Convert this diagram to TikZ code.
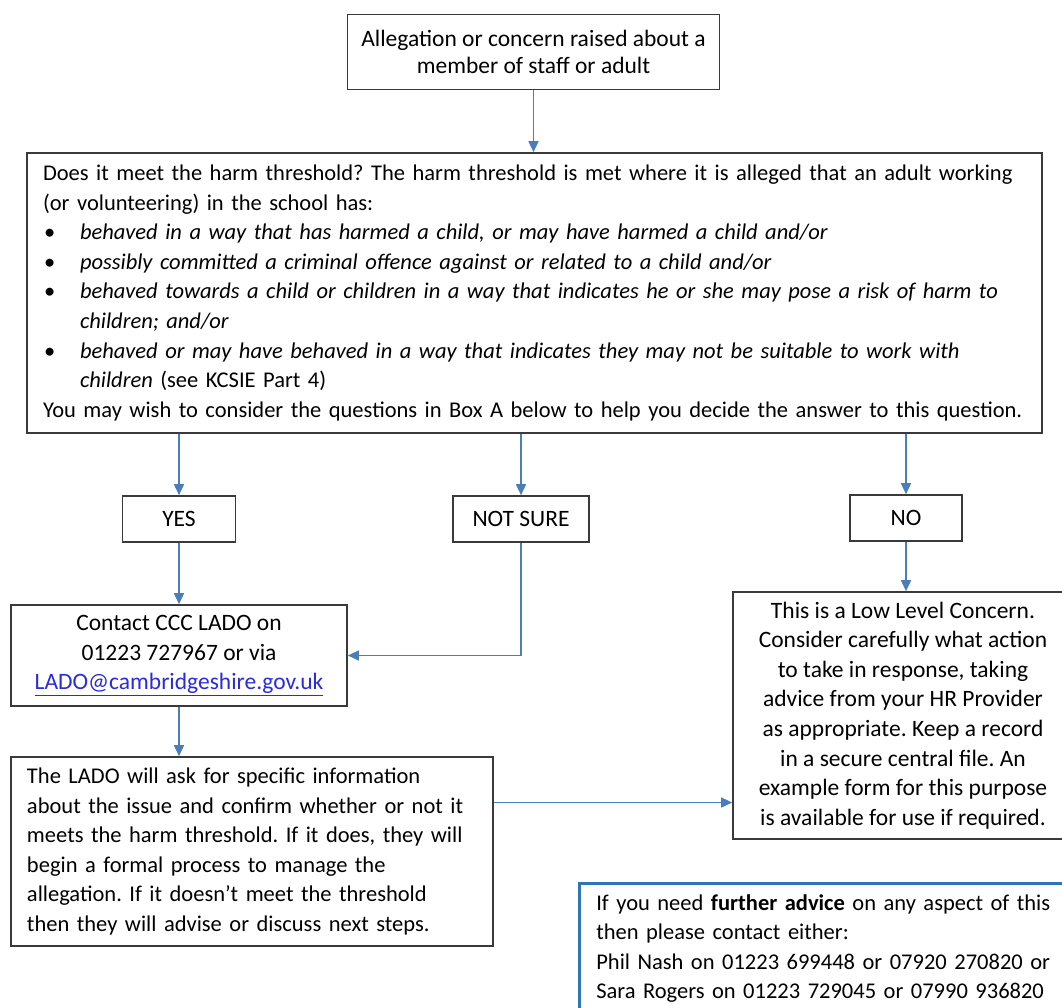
\documentclass[tikz,border=0pt]{standalone}
\usepackage{fontspec}
\setmainfont{Carlito}
\usetikzlibrary{arrows.meta,positioning,calc}
\definecolor{flowblue}{HTML}{4A7EBB}
\definecolor{edgegray}{HTML}{3A3A3A}
\definecolor{adviceblue}{HTML}{2E75B6}
\definecolor{linkblue}{HTML}{2A2AE0}
\tikzset{
    box/.style={draw=edgegray,line width=1.6pt,fill=white,inner sep=0pt,align=center,
        font=\fontsize{22.5}{29.6}\selectfont},
    bigtext/.style={font=\fontsize{23.5}{29.6}\selectfont},
    answer/.style={box,bigtext,minimum height=46pt},
    flow/.style={-{Triangle[length=11pt,width=10pt]},flowblue,line width=1.5pt}
}
\newcommand{\harmitem}[1]{\makebox[37pt][l]{\hspace{1pt}\textbullet}\textit{#1}}
\newcommand{\harmcont}[1]{\hspace*{37pt}\textit{#1}}
\frenchspacing

\begin{document}
\begin{tikzpicture}[x=1pt,y=-1pt]
    \useasboundingbox (0,0) rectangle (1062,1008);
    \clip (0,0) rectangle (1062,1008);

    \node[box,minimum width=372pt,minimum height=75pt,font=\fontsize{23.5}{27}\selectfont]
        (raised) at (533.5,52) {Allegation or concern raised about a\\member of staff or adult};

    \node[box,minimum width=1015pt,minimum height=280pt,text width=983pt,inner xsep=16pt,align=left]
        (threshold) at (534.5,293) {Does it meet the harm threshold? The harm threshold is met where it is alleged that an adult working\\
        (or volunteering) in the school has:\\
        \harmitem{behaved in a way that has harmed a child, or may have harmed a child and/or}\\
        \harmitem{possibly committed a criminal offence against or related to a child and/or}\\
        \harmitem{behaved towards a child or children in a way that indicates he or she may pose a risk of harm to}\\
        \harmcont{children; and/or}\\
        \harmitem{behaved or may have behaved in a way that indicates they may not be suitable to work with}\\
        \harmcont{children} (see KCSIE Part 4)\\
        \mbox{You may wish to consider the questions in Box A below to help you decide the answer to this question.}};

    % answers
    \node[answer,minimum width=113pt] (yes) at (179,519) {YES};
    \node[answer,minimum width=136pt] (unsure) at (521,519) {NOT SURE};
    \node[answer,minimum width=112pt] (no) at (906,518) {NO};

    \node[box,bigtext,minimum width=336pt,minimum height=101pt] (contact) at (179,655.5)
        {Contact CCC LADO on\\01223 727967 or via\\\textcolor{linkblue}{\underline{LADO@cambridgeshire.gov.uk}}};

    \node[box,bigtext,minimum width=340pt,minimum height=247pt] (lowlevel) at (903,715.5)
        {This is a Low Level Concern.\\Consider carefully what action\\to take in response, taking\\advice from your HR Provider\\as appropriate. Keep a record\\in a secure central file. An\\example form for this purpose\\is available for use if required.};

    \node[box,minimum width=482pt,minimum height=189pt,text width=450pt,inner xsep=16pt,align=left]
        (lado) at (252,851.5) {The LADO will ask for specific information\\about the issue and confirm whether or not it\\meets the harm threshold. If it does, they will\\begin a formal process to manage the\\allegation. If it doesn't meet the threshold\\then they will advise or discuss next steps.};

    \node[box,draw=adviceblue,line width=2.6pt,anchor=north west,text width=470pt,inner xsep=17pt,inner ysep=11pt,align=left]
        (advice) at (578,882) {If you need \textbf{further advice} on any aspect of this\\then please contact either:\\Phil Nash on 01223 699448 or 07920 270820 or\\Sara Rogers on 01223 729045 or 07990 936820};

    % connectors
    \coordinate (lado out) at ($(lado.north east)!0.243!(lado.south east)$);
    \draw[flow] (raised.south) -- (raised.south |- threshold.north);
    \draw[flow] (threshold.south -| yes) -- (yes);
    \draw[flow] (threshold.south -| unsure) -- (unsure);
    \draw[flow] (threshold.south -| no) -- (no);
    \draw[flow] (yes) -- (contact);
    \draw[flow] (unsure) |- (contact);
    \draw[flow] (no) -- (no |- lowlevel.north);
    \draw[flow] (contact.south) -- (contact.south |- lado.north);
    \draw[flow] (lado out) -- (lado out -| lowlevel.west);
\end{tikzpicture}
\end{document}
